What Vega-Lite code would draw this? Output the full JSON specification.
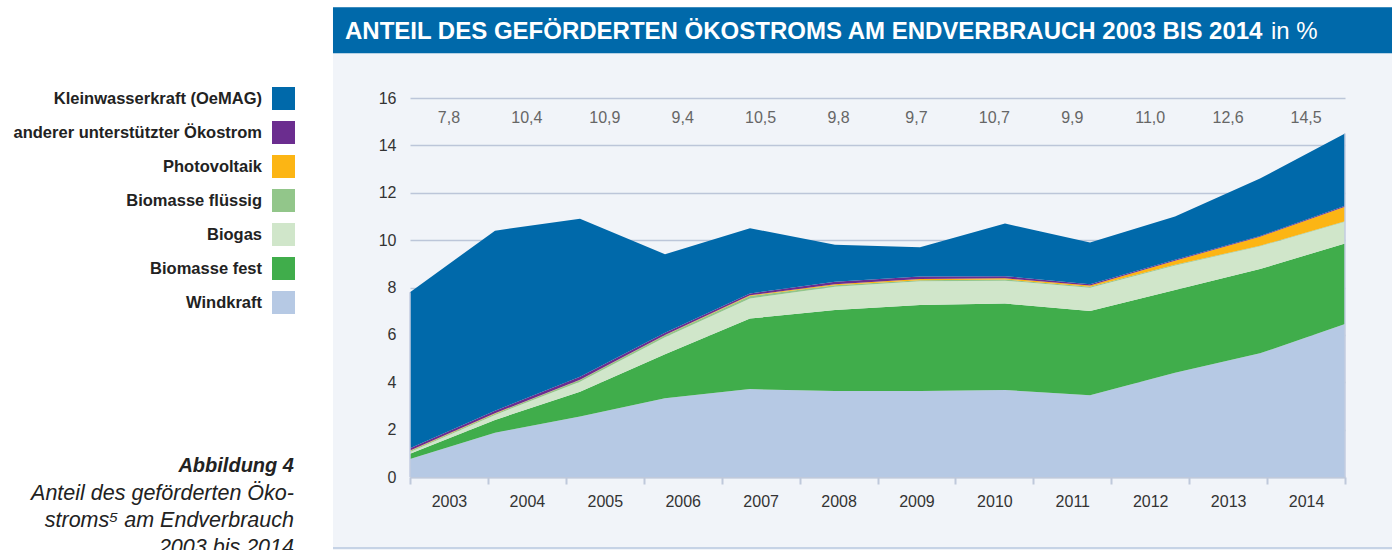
{
  "$schema": "https://vega.github.io/schema/vega-lite/v6.json",
  "width": 935,
  "height": 379,
  "autosize": {"type": "none"},
  "padding": {"left": 410, "top": 98, "right": 52, "bottom": 73},
  "background": "#f1f4f9",
  "config": {
    "view": {"stroke": null},
    "font": "Liberation Sans",
    "locale": {"number": {"decimal": ",", "thousands": ".", "grouping": [3], "currency": ["", " €"]}}
  },
  "datasets": {
    "quellen": [
      {"Quelle": "Windkraft", "Rang": 1},
      {"Quelle": "Biomasse fest", "Rang": 2},
      {"Quelle": "Biogas", "Rang": 3},
      {"Quelle": "Biomasse flüssig", "Rang": 4},
      {"Quelle": "Photovoltaik", "Rang": 5},
      {"Quelle": "anderer unterstützter Ökostrom", "Rang": 6},
      {"Quelle": "Kleinwasserkraft (OeMAG)", "Rang": 7}
    ],
    "anteile": [
      {"Jahr": 2003, "Quelle": "Windkraft", "Anteil": 0.76},
      {"Jahr": 2003, "Quelle": "Biomasse fest", "Anteil": 0.22},
      {"Jahr": 2003, "Quelle": "Biogas", "Anteil": 0.08},
      {"Jahr": 2003, "Quelle": "Biomasse flüssig", "Anteil": 0.04},
      {"Jahr": 2003, "Quelle": "Photovoltaik", "Anteil": 0.02},
      {"Jahr": 2003, "Quelle": "anderer unterstützter Ökostrom", "Anteil": 0.09},
      {"Jahr": 2003, "Quelle": "Kleinwasserkraft (OeMAG)", "Anteil": 6.59},
      {"Jahr": 2004, "Quelle": "Windkraft", "Anteil": 1.87},
      {"Jahr": 2004, "Quelle": "Biomasse fest", "Anteil": 0.54},
      {"Jahr": 2004, "Quelle": "Biogas", "Anteil": 0.21},
      {"Jahr": 2004, "Quelle": "Biomasse flüssig", "Anteil": 0.05},
      {"Jahr": 2004, "Quelle": "Photovoltaik", "Anteil": 0.02},
      {"Jahr": 2004, "Quelle": "anderer unterstützter Ökostrom", "Anteil": 0.11},
      {"Jahr": 2004, "Quelle": "Kleinwasserkraft (OeMAG)", "Anteil": 7.60},
      {"Jahr": 2005, "Quelle": "Windkraft", "Anteil": 2.55},
      {"Jahr": 2005, "Quelle": "Biomasse fest", "Anteil": 1.05},
      {"Jahr": 2005, "Quelle": "Biogas", "Anteil": 0.42},
      {"Jahr": 2005, "Quelle": "Biomasse flüssig", "Anteil": 0.07},
      {"Jahr": 2005, "Quelle": "Photovoltaik", "Anteil": 0.02},
      {"Jahr": 2005, "Quelle": "anderer unterstützter Ökostrom", "Anteil": 0.12},
      {"Jahr": 2005, "Quelle": "Kleinwasserkraft (OeMAG)", "Anteil": 6.67},
      {"Jahr": 2006, "Quelle": "Windkraft", "Anteil": 3.32},
      {"Jahr": 2006, "Quelle": "Biomasse fest", "Anteil": 1.86},
      {"Jahr": 2006, "Quelle": "Biogas", "Anteil": 0.72},
      {"Jahr": 2006, "Quelle": "Biomasse flüssig", "Anteil": 0.08},
      {"Jahr": 2006, "Quelle": "Photovoltaik", "Anteil": 0.02},
      {"Jahr": 2006, "Quelle": "anderer unterstützter Ökostrom", "Anteil": 0.09},
      {"Jahr": 2006, "Quelle": "Kleinwasserkraft (OeMAG)", "Anteil": 3.31},
      {"Jahr": 2007, "Quelle": "Windkraft", "Anteil": 3.71},
      {"Jahr": 2007, "Quelle": "Biomasse fest", "Anteil": 2.98},
      {"Jahr": 2007, "Quelle": "Biogas", "Anteil": 0.85},
      {"Jahr": 2007, "Quelle": "Biomasse flüssig", "Anteil": 0.10},
      {"Jahr": 2007, "Quelle": "Photovoltaik", "Anteil": 0.03},
      {"Jahr": 2007, "Quelle": "anderer unterstützter Ökostrom", "Anteil": 0.08},
      {"Jahr": 2007, "Quelle": "Kleinwasserkraft (OeMAG)", "Anteil": 2.75},
      {"Jahr": 2008, "Quelle": "Windkraft", "Anteil": 3.63},
      {"Jahr": 2008, "Quelle": "Biomasse fest", "Anteil": 3.42},
      {"Jahr": 2008, "Quelle": "Biogas", "Anteil": 0.98},
      {"Jahr": 2008, "Quelle": "Biomasse flüssig", "Anteil": 0.07},
      {"Jahr": 2008, "Quelle": "Photovoltaik", "Anteil": 0.04},
      {"Jahr": 2008, "Quelle": "anderer unterstützter Ökostrom", "Anteil": 0.10},
      {"Jahr": 2008, "Quelle": "Kleinwasserkraft (OeMAG)", "Anteil": 1.56},
      {"Jahr": 2009, "Quelle": "Windkraft", "Anteil": 3.63},
      {"Jahr": 2009, "Quelle": "Biomasse fest", "Anteil": 3.63},
      {"Jahr": 2009, "Quelle": "Biogas", "Anteil": 1.00},
      {"Jahr": 2009, "Quelle": "Biomasse flüssig", "Anteil": 0.05},
      {"Jahr": 2009, "Quelle": "Photovoltaik", "Anteil": 0.05},
      {"Jahr": 2009, "Quelle": "anderer unterstützter Ökostrom", "Anteil": 0.10},
      {"Jahr": 2009, "Quelle": "Kleinwasserkraft (OeMAG)", "Anteil": 1.24},
      {"Jahr": 2010, "Quelle": "Windkraft", "Anteil": 3.67},
      {"Jahr": 2010, "Quelle": "Biomasse fest", "Anteil": 3.65},
      {"Jahr": 2010, "Quelle": "Biogas", "Anteil": 0.97},
      {"Jahr": 2010, "Quelle": "Biomasse flüssig", "Anteil": 0.05},
      {"Jahr": 2010, "Quelle": "Photovoltaik", "Anteil": 0.05},
      {"Jahr": 2010, "Quelle": "anderer unterstützter Ökostrom", "Anteil": 0.09},
      {"Jahr": 2010, "Quelle": "Kleinwasserkraft (OeMAG)", "Anteil": 2.22},
      {"Jahr": 2011, "Quelle": "Windkraft", "Anteil": 3.45},
      {"Jahr": 2011, "Quelle": "Biomasse fest", "Anteil": 3.56},
      {"Jahr": 2011, "Quelle": "Biogas", "Anteil": 0.98},
      {"Jahr": 2011, "Quelle": "Biomasse flüssig", "Anteil": 0.04},
      {"Jahr": 2011, "Quelle": "Photovoltaik", "Anteil": 0.05},
      {"Jahr": 2011, "Quelle": "anderer unterstützter Ökostrom", "Anteil": 0.06},
      {"Jahr": 2011, "Quelle": "Kleinwasserkraft (OeMAG)", "Anteil": 1.76},
      {"Jahr": 2012, "Quelle": "Windkraft", "Anteil": 4.40},
      {"Jahr": 2012, "Quelle": "Biomasse fest", "Anteil": 3.49},
      {"Jahr": 2012, "Quelle": "Biogas", "Anteil": 1.04},
      {"Jahr": 2012, "Quelle": "Biomasse flüssig", "Anteil": 0.03},
      {"Jahr": 2012, "Quelle": "Photovoltaik", "Anteil": 0.17},
      {"Jahr": 2012, "Quelle": "anderer unterstützter Ökostrom", "Anteil": 0.04},
      {"Jahr": 2012, "Quelle": "Kleinwasserkraft (OeMAG)", "Anteil": 1.83},
      {"Jahr": 2013, "Quelle": "Windkraft", "Anteil": 5.22},
      {"Jahr": 2013, "Quelle": "Biomasse fest", "Anteil": 3.56},
      {"Jahr": 2013, "Quelle": "Biogas", "Anteil": 0.96},
      {"Jahr": 2013, "Quelle": "Biomasse flüssig", "Anteil": 0.02},
      {"Jahr": 2013, "Quelle": "Photovoltaik", "Anteil": 0.38},
      {"Jahr": 2013, "Quelle": "anderer unterstützter Ökostrom", "Anteil": 0.03},
      {"Jahr": 2013, "Quelle": "Kleinwasserkraft (OeMAG)", "Anteil": 2.43},
      {"Jahr": 2014, "Quelle": "Windkraft", "Anteil": 6.46},
      {"Jahr": 2014, "Quelle": "Biomasse fest", "Anteil": 3.40},
      {"Jahr": 2014, "Quelle": "Biogas", "Anteil": 0.92},
      {"Jahr": 2014, "Quelle": "Biomasse flüssig", "Anteil": 0.02},
      {"Jahr": 2014, "Quelle": "Photovoltaik", "Anteil": 0.61},
      {"Jahr": 2014, "Quelle": "anderer unterstützter Ökostrom", "Anteil": 0.04},
      {"Jahr": 2014, "Quelle": "Kleinwasserkraft (OeMAG)", "Anteil": 3.05}
    ],
    "summen": [
      {"Jahr": 2003, "Summe": 7.8},
      {"Jahr": 2004, "Summe": 10.4},
      {"Jahr": 2005, "Summe": 10.9},
      {"Jahr": 2006, "Summe": 9.4},
      {"Jahr": 2007, "Summe": 10.5},
      {"Jahr": 2008, "Summe": 9.8},
      {"Jahr": 2009, "Summe": 9.7},
      {"Jahr": 2010, "Summe": 10.7},
      {"Jahr": 2011, "Summe": 9.9},
      {"Jahr": 2012, "Summe": 11.0},
      {"Jahr": 2013, "Summe": 12.6},
      {"Jahr": 2014, "Summe": 14.5}
    ]
  },
  "layer": [
    {
      "layer": [
        {
          "data": {"values": [{}]},
          "mark": {"type": "rect", "fill": "#ffffff"},
          "encoding": {
            "x": {"datum": 1990, "type": "quantitative", "scale": {"domain": [2003, 2014], "nice": false, "zero": false}, "axis": null},
            "x2": {"datum": 2002.094},
            "y": {"datum": -10, "type": "quantitative", "scale": {"domain": [0, 16], "nice": false}, "axis": null},
            "y2": {"datum": 30}
          }
        },
        {
          "data": {"values": [{}]},
          "mark": {"type": "rect", "fill": "#ffffff"},
          "encoding": {
            "x": {"datum": 2014.553, "type": "quantitative", "scale": {"domain": [2003, 2014], "nice": false, "zero": false}, "axis": null},
            "x2": {"datum": 2020},
            "y": {"datum": -10, "type": "quantitative", "scale": {"domain": [0, 16], "nice": false}, "axis": null},
            "y2": {"datum": 30}
          }
        },
        {
          "data": {"values": [{}]},
          "mark": {"type": "rect", "fill": "#ffffff"},
          "encoding": {
            "x": {"datum": 2002.094, "type": "quantitative", "scale": {"domain": [2003, 2014], "nice": false, "zero": false}, "axis": null},
            "x2": {"datum": 2014.553},
            "y": {"datum": 19.83, "type": "quantitative", "scale": {"domain": [0, 16], "nice": false}, "axis": null},
            "y2": {"datum": 30}
          }
        },
        {
          "data": {"values": [{}]},
          "mark": {"type": "rect", "fill": "#0069aa"},
          "encoding": {
            "x": {"datum": 2002.094, "type": "quantitative", "scale": {"domain": [2003, 2014], "nice": false, "zero": false}, "axis": null},
            "x2": {"datum": 2014.553},
            "y": {"datum": 17.887, "type": "quantitative", "scale": {"domain": [0, 16], "nice": false}, "axis": null},
            "y2": {"datum": 19.83}
          }
        },
        {
          "data": {"values": [{}]},
          "mark": {"type": "text", "text": "ANTEIL DES GEFÖRDERTEN ÖKOSTROMS AM ENDVERBRAUCH 2003 BIS 2014", "align": "left", "baseline": "alphabetic", "fill": "#ffffff", "font": "Liberation Sans", "fontSize": 24, "fontWeight": "bold"},
          "encoding": {
            "x": {"datum": 2002.235, "type": "quantitative", "scale": {"domain": [2003, 2014], "nice": false, "zero": false}, "axis": null},
            "y": {"datum": 18.49, "type": "quantitative", "scale": {"domain": [0, 16], "nice": false}, "axis": null}
          }
        },
        {
          "data": {"values": [{}]},
          "mark": {"type": "text", "text": "in %", "align": "left", "baseline": "alphabetic", "fill": "#ffffff", "font": "Liberation Sans", "fontSize": 24, "fontWeight": "normal"},
          "encoding": {
            "x": {"datum": 2013.129, "type": "quantitative", "scale": {"domain": [2003, 2014], "nice": false, "zero": false}, "axis": null},
            "y": {"datum": 18.49, "type": "quantitative", "scale": {"domain": [0, 16], "nice": false}, "axis": null}
          }
        },
        {
          "data": {"name": "anteile"},
          "transform": [{"lookup": "Quelle", "from": {"data": {"name": "quellen"}, "key": "Quelle", "fields": ["Rang"]}}],
          "mark": {"type": "area", "interpolate": "linear"},
          "encoding": {
            "x": {"field": "Jahr", "type": "quantitative", "scale": {"domain": [2003, 2014], "nice": false, "zero": false}, "axis": null},
            "y": {
              "field": "Anteil",
              "type": "quantitative",
              "stack": "zero",
              "scale": {"domain": [0, 16], "nice": false},
              "axis": {"title": null, "orient": "left", "values": [0, 2, 4, 6, 8, 10, 12, 14, 16], "grid": true, "gridColor": "#bcc6d9", "gridWidth": 1.5, "domain": false, "ticks": false, "labelPadding": 14, "labelFont": "Liberation Sans", "labelFontSize": 16, "labelColor": "#333333"}
            },
            "order": {"field": "Rang", "type": "quantitative", "sort": "ascending"},
            "color": {
              "field": "Quelle",
              "type": "nominal",
              "scale": {
                "domain": ["Windkraft", "Biomasse fest", "Biogas", "Biomasse flüssig", "Photovoltaik", "anderer unterstützter Ökostrom", "Kleinwasserkraft (OeMAG)"],
                "range": ["#b6c9e4", "#40ad4b", "#d0e6ca", "#92c68a", "#fcb514", "#6b2d8f", "#0069aa"]
              },
              "legend": {
                "orient": "none",
                "direction": "vertical",
                "legendX": -138,
                "legendY": -11,
                "title": null,
                "values": ["Kleinwasserkraft (OeMAG)", "anderer unterstützter Ökostrom", "Photovoltaik", "Biomasse flüssig", "Biogas", "Biomasse fest", "Windkraft"],
                "symbolType": "square",
                "symbolSize": 529,
                "symbolStrokeWidth": 0,
                "symbolOpacity": 1,
                "labelAlign": "right",
                "labelOffset": -33,
                "labelBaseline": "middle",
                "labelFont": "Liberation Sans",
                "labelFontSize": 16.5,
                "labelFontWeight": "bold",
                "labelColor": "#222222",
                "labelLimit": 400,
                "rowPadding": 11
              }
            }
          }
        },
        {
          "data": {"name": "summen"},
          "transform": [{"filter": "datum.Jahr == 2003 || datum.Jahr == 2014"}],
          "mark": {"type": "rule", "stroke": "#c3cde0", "strokeWidth": 1.5},
          "encoding": {
            "x": {"field": "Jahr", "type": "quantitative", "scale": {"domain": [2003, 2014], "nice": false, "zero": false}, "axis": null},
            "y": {"field": "Summe", "type": "quantitative", "scale": {"domain": [0, 16], "nice": false}, "axis": null},
            "y2": {"datum": 0}
          }
        },
        {
          "data": {"values": [{}]},
          "mark": {"type": "rule", "stroke": "#c6d3e6", "strokeWidth": 2},
          "encoding": {
            "x": {"datum": 2002.094, "type": "quantitative", "scale": {"domain": [2003, 2014], "nice": false, "zero": false}, "axis": null},
            "x2": {"datum": 2014.553},
            "y": {"datum": -2.997, "type": "quantitative", "scale": {"domain": [0, 16], "nice": false}, "axis": null}
          }
        },
        {
          "data": {"values": [{}]},
          "mark": {"type": "text", "text": "Abbildung 4", "align": "right", "baseline": "alphabetic", "fill": "#222222", "font": "Liberation Sans", "fontSize": 20, "fontWeight": "bold", "fontStyle": "italic"},
          "encoding": {
            "x": {"datum": 2001.635, "type": "quantitative", "scale": {"domain": [2003, 2014], "nice": false, "zero": false}, "axis": null},
            "y": {"datum": 0.211, "type": "quantitative", "scale": {"domain": [0, 16], "nice": false}, "axis": null}
          }
        },
        {
          "data": {"values": [{}]},
          "mark": {"type": "text", "text": ["Anteil des geförderten Öko-", "stroms⁵ am Endverbrauch", "2003 bis 2014"], "lineHeight": 27, "align": "right", "baseline": "alphabetic", "fill": "#222222", "font": "Liberation Sans", "fontSize": 21.5, "fontStyle": "italic"},
          "encoding": {
            "x": {"datum": 2001.635, "type": "quantitative", "scale": {"domain": [2003, 2014], "nice": false, "zero": false}, "axis": null},
            "y": {"datum": -0.971, "type": "quantitative", "scale": {"domain": [0, 16], "nice": false}, "axis": null}
          }
        }
      ],
      "resolve": {"axis": {"y": "independent"}}
    },
    {
      "data": {"name": "summen"},
      "mark": {"type": "text", "align": "center", "baseline": "middle", "fill": "#666666", "font": "Liberation Sans", "fontSize": 16},
      "encoding": {
        "x": {
          "field": "Jahr",
          "type": "ordinal",
          "scale": {"type": "band", "paddingInner": 0, "paddingOuter": 0},
          "axis": {"title": null, "orient": "bottom", "labelAngle": 0, "tickBand": "extent", "grid": false, "domainColor": "#bfc9db", "domainWidth": 2, "tickColor": "#bfc9db", "tickWidth": 2, "tickSize": 7, "labelPadding": 9, "labelFont": "Liberation Sans", "labelFontSize": 16, "labelColor": "#333333"}
        },
        "y": {"datum": 15.154, "type": "quantitative", "scale": {"domain": [0, 16], "nice": false}, "axis": null},
        "text": {"field": "Summe", "type": "quantitative", "format": ".1f"}
      }
    }
  ],
  "resolve": {"scale": {"x": "independent"}, "axis": {"x": "independent", "y": "independent"}}
}
